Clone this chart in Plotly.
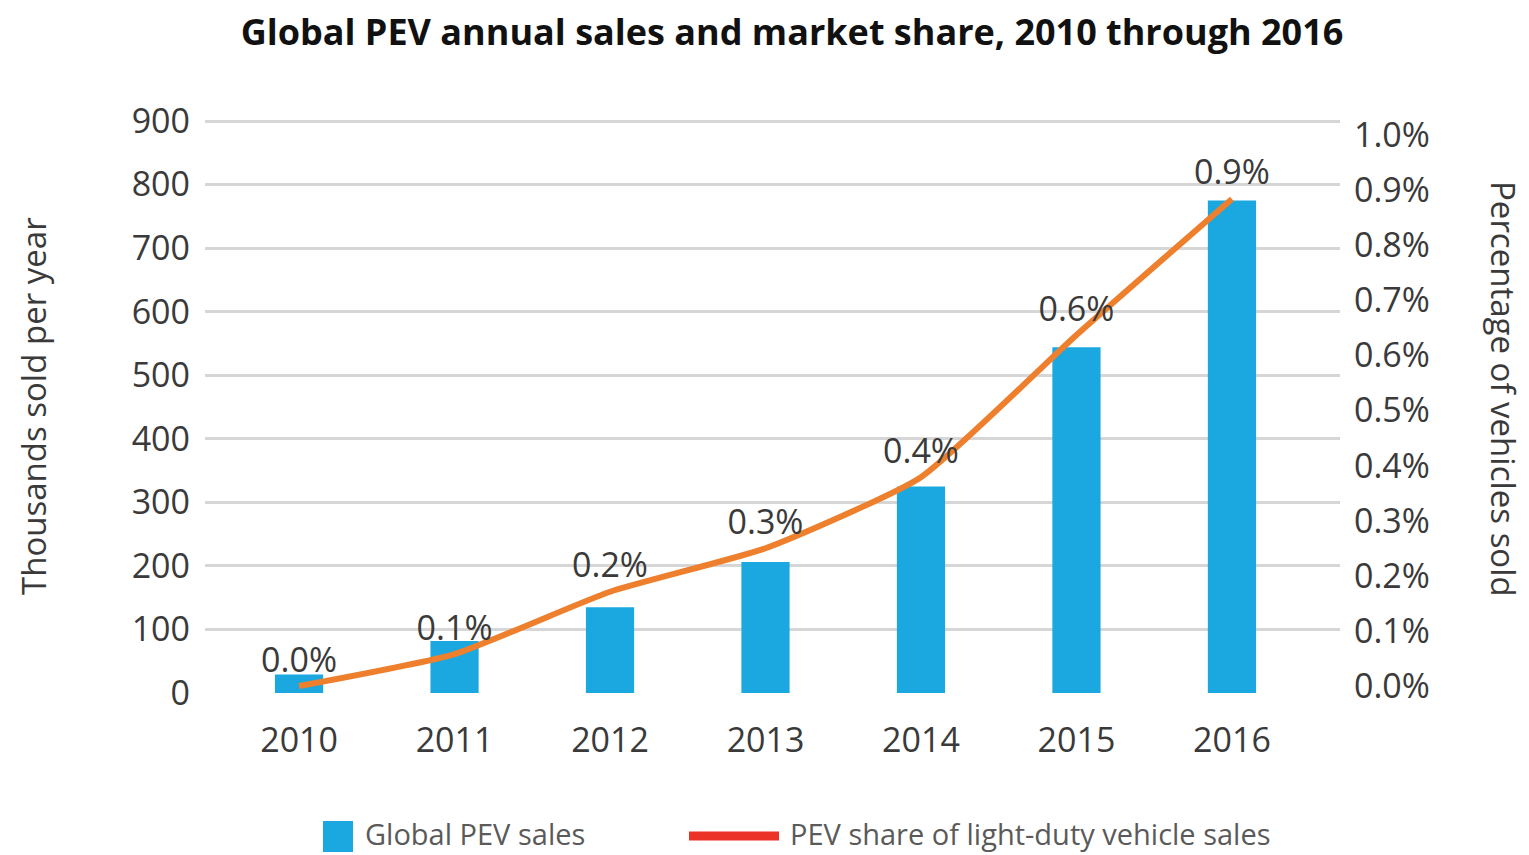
import plotly.graph_objects as go

years = ["2010", "2011", "2012", "2013", "2014", "2015", "2016"]
sales_thousands = [29, 82, 135, 206, 325, 544, 775]
share_pct = [0.0, 0.058, 0.171, 0.25, 0.379, 0.637, 0.884]
share_labels = ["0.0%", "0.1%", "0.2%", "0.3%", "0.4%", "0.6%", "0.9%"]
left_ticks = [0, 100, 200, 300, 400, 500, 600, 700, 800, 900]
right_ticks = [0.0, 0.1, 0.2, 0.3, 0.4, 0.5, 0.6, 0.7, 0.8, 0.9, 1.0]
right_tick_text = ["0.0%", "0.1%", "0.2%", "0.3%", "0.4%", "0.5%", "0.6%", "0.7%", "0.8%", "0.9%", "1.0%"]

BLUE = "#1ba8e0"
ORANGE = "#ee7f2d"
RED = "#ec3328"
TXT = "#3a3a3a"
FONT = "Open Sans"

# page has an 8px body margin; work in page pixels and convert
OFF = 8
PAGE_W, PAGE_H = 1529, 855
W, H = PAGE_W - OFF, PAGE_H - OFF
# plot area in page pixels
L, R, T, B = 205, 1340, 116, 693
pw, ph = R - L, B - T
px_per_unit = (693 - 121) / 900.0
y_max = 900 + (121 - T) / px_per_unit
px_per_pct = 686 - 135
y2_min = -(B - 686) / px_per_pct
y2_max = (686 - T) / px_per_pct


def px(x):
    return (x - L) / pw


def py(y):
    return (B - y) / ph


fig = go.Figure()
fig.add_trace(go.Bar(
    x=years, y=sales_thousands, marker=dict(color=BLUE, line=dict(width=0)),
    width=0.31, name="Global PEV sales", showlegend=False, yaxis="y",
))
fig.add_trace(go.Scatter(
    x=years, y=share_pct, mode="lines+markers+text", yaxis="y2",
    line=dict(color=ORANGE, width=6, shape="spline", smoothing=0.5),
    marker=dict(size=8, color="rgba(0,0,0,0)"),
    text=share_labels, textposition="top center",
    textfont=dict(family=FONT, size=34, color=TXT),
    name="PEV share of light-duty vehicle sales", showlegend=False,
))

fig.update_layout(
    width=W, height=H,
    margin=dict(l=L - OFF, r=PAGE_W - R, t=T - OFF, b=PAGE_H - B),
    paper_bgcolor="white", plot_bgcolor="white",
    font=dict(family=FONT, color=TXT),
    title=dict(
        text="<b>Global PEV annual sales and market share, 2010 through 2016</b>",
        x=(792 - OFF) / W, xanchor="center", y=1 - (32 - OFF) / H, yanchor="middle",
        font=dict(family=FONT, size=36, color="#111111"),
    ),
    xaxis=dict(
        type="category", range=[-0.605, 6.695], showgrid=False, zeroline=False,
        showline=False, ticks="", tickfont=dict(family=FONT, size=34, color=TXT),
        ticklabelstandoff=24,
    ),
    yaxis=dict(
        range=[0, y_max], tickvals=left_ticks, showgrid=True, gridcolor="#d6d6d6",
        gridwidth=2.5, zeroline=False, showline=False, ticks="",
        tickfont=dict(family=FONT, size=34, color=TXT), ticklabelstandoff=14,
    ),
    yaxis2=dict(
        overlaying="y", side="right", range=[y2_min, y2_max],
        tickvals=right_ticks, ticktext=right_tick_text, showgrid=False,
        zeroline=False, showline=False, ticks="",
        tickfont=dict(family=FONT, size=34, color=TXT), ticklabelstandoff=13,
    ),
    showlegend=False,
)

# axis titles
fig.add_annotation(
    text="Thousands sold per year", xref="paper", yref="paper",
    x=px(33), y=py(406), textangle=-90, showarrow=False,
    font=dict(family=FONT, size=33, color=TXT), xanchor="center", yanchor="middle",
)
fig.add_annotation(
    text="Percentage of vehicles sold", xref="paper", yref="paper",
    x=px(1504), y=py(389), textangle=90, showarrow=False,
    font=dict(family=FONT, size=33, color=TXT), xanchor="center", yanchor="middle",
)

# custom legend
fig.add_shape(type="rect", xref="paper", yref="paper",
              x0=px(323), x1=px(353), y0=py(821), y1=py(852),
              fillcolor=BLUE, line=dict(width=0))
fig.add_annotation(text="Global PEV sales", xref="paper", yref="paper",
                   x=px(363), y=py(833), xanchor="left", yanchor="middle",
                   showarrow=False, font=dict(family=FONT, size=29, color="#5a5a5a"))
fig.add_shape(type="line", xref="paper", yref="paper",
              x0=px(689), x1=px(779), y0=py(836), y1=py(836),
              line=dict(color=RED, width=9))
fig.add_annotation(text="PEV share of light-duty vehicle sales", xref="paper", yref="paper",
                   x=px(788), y=py(833), xanchor="left", yanchor="middle",
                   showarrow=False, font=dict(family=FONT, size=29, color="#5a5a5a"))

fig.write_html("out.html")
